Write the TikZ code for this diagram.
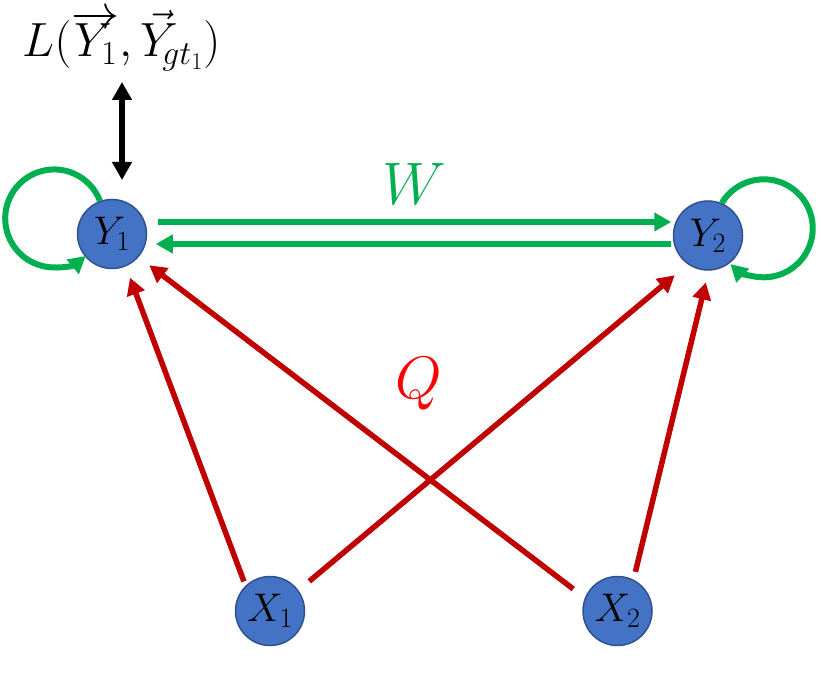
\RequirePackage{fix-cm}
\documentclass[tikz,border=0pt]{standalone}
\usetikzlibrary{arrows.meta}
\definecolor{nodefill}{HTML}{4472C4}
\definecolor{nodeedge}{HTML}{2F528F}
\definecolor{ggreen}{HTML}{00B050}
\definecolor{dred}{HTML}{C00000}
\definecolor{bred}{HTML}{FF0000}
\begin{document}
\begin{tikzpicture}[x=1pt,y=1pt,
  varnode/.style={circle, fill=nodefill, draw=nodeedge, line width=1.5pt, minimum size=69pt, inner sep=0pt, font=\fontsize{40}{48}\selectfont},
  garrow/.style={draw=ggreen, line width=6pt, -{Triangle[length=17pt,width=18pt]}},
  rarrow/.style={draw=dred, line width=5.5pt, -{Triangle[length=17pt,width=18pt]}},
  barrow/.style={draw=black, line width=5.5pt, {Triangle[length=18pt,width=19pt]}-{Triangle[length=18pt,width=19pt]}},
  biglabel/.style={anchor=base, inner sep=0pt, font=\fontsize{60}{72}\selectfont}
]
\useasboundingbox (0,0) rectangle (821,681);

\node[varnode] (Y1) at (112,447) {$Y_1$};
\node[varnode] (Y2) at (708,445.5) {$Y_2$};
\node[varnode] (X1) at (270,70) {$X_1$};
\node[varnode] (X2) at (617.5,70) {$X_2$};

\node[anchor=base, inner sep=0pt, font=\fontsize{48}{56}\selectfont] (L) at (121.5,624) {$L(\overrightarrow{\smash{Y_1}\vphantom{t}},\vec{Y}_{\!gt_1})$};
\node[biglabel, text=ggreen] (W) at (414,476) {$W$};
\node[biglabel, text=bred] (Q) at (419,283) {$Q$};

% loss arrow
\coordinate (ta) at (122,599);
\coordinate (tb) at (122,501);
\draw[barrow] (ta) -- (tb);

% green W arrows
\draw[garrow, shorten <=10.5pt, shorten >=1.5pt] ([yshift=12pt]Y1.east) -- ([yshift=12pt]Y1.east -| Y2.west);
\draw[garrow, shorten <=1.5pt, shorten >=8.5pt] ([yshift=-10pt]Y1.east -| Y2.west) -- ([yshift=-10pt]Y1.east);

% self loops
\draw[garrow] (Y1.110) arc[start angle=21, end angle=310, radius=49pt];
\draw[garrow] (Y2.67) arc[start angle=149, end angle=-133, radius=49pt];

% red Q arrows
\draw[rarrow, shorten <=4.5pt, shorten >=12pt] (X1.134) -- (Y1.-67);
\draw[rarrow, shorten <=14.5pt, shorten >=13.5pt] (X2.158) -- (Y1.-41.6);
\draw[rarrow, shorten <=14pt, shorten >=17pt] (X1.36.6) -- (Y2.235.7);
\draw[rarrow, shorten <=8pt, shorten >=12pt] (X2.63) -- (Y2.-89);
\end{tikzpicture}
\end{document}
